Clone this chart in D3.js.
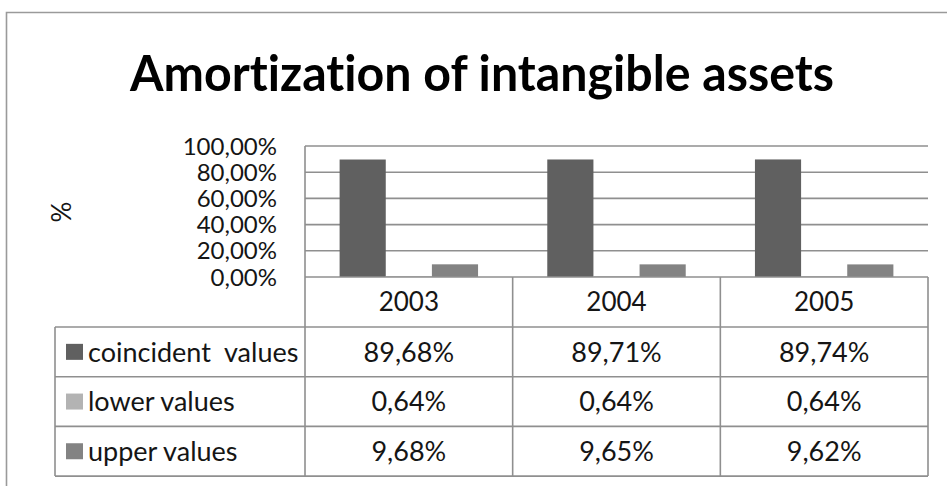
<!DOCTYPE html>
<html>
<head>
<meta charset="utf-8">
<script src="https://cdn.jsdelivr.net/npm/d3@7"></script>
<style>
  html, body { margin: 0; padding: 0; background: #ffffff; }
  svg { display: block; }
  text { font-family: "Lato", "Open Sans", sans-serif; font-variant-ligatures: none; font-feature-settings: "liga" 0, "clig" 0; }
</style>
</head>
<body>
<svg id="chart" width="947" height="486"></svg>
<script>
// ---- data ----
const titleText = "Amortization of intangible assets";
const years = ["2003", "2004", "2005"];
const seriesNames = ["coincident  values", "lower values", "upper values"];
const coincidentValues = [89.68, 89.71, 89.74];
const lowerValues = [0.64, 0.64, 0.64];
const upperValues = [9.68, 9.65, 9.62];
const yTicks = [0, 20, 40, 60, 80, 100];
const yAxisTitle = "%";

const seriesValues = [coincidentValues, lowerValues, upperValues];
const seriesColors = ["#606060", "#b3b3b3", "#838383"];
const fmt = v => v.toFixed(2).replace(".", ",") + "%";

// ---- layout ----
const W = 947, H = 486;
const plotLeft = 305, plotRight = 928, plotTop = 146, plotBottom = 277;
const tableLeft = 55;
const headerBottom = 327;
const rowH = 49.7;
const lineColor = "#8f8f8f";
const txtColor = "#151515";

const svg = d3.select("#chart");

// outer chart border
svg.append("path")
  .attr("d", `M6.5,${H + 2} L6.5,12.5 L${W + 2},12.5`)
  .attr("fill", "none").attr("stroke", "#9a9a9a").attr("stroke-width", 1.6);

// title
svg.append("text")
  .attr("x", 482).attr("y", 91)
  .attr("text-anchor", "middle")
  .attr("font-weight", "bold")
  .attr("font-size", 50)
  .attr("fill", "#000")
  .attr("textLength", 704).attr("lengthAdjust", "spacingAndGlyphs")
  .text(titleText);

// scales
const x0 = d3.scaleBand().domain(years).range([plotLeft, plotRight]).padding(0);
const cw = x0.bandwidth();
const bw = cw / (seriesNames.length + 1.5);
const x1 = d3.scaleBand().domain(seriesNames)
  .range([0.75 * bw, cw - 0.75 * bw]).padding(0);
const y = d3.scaleLinear().domain([0, 100]).range([plotBottom, plotTop]);

// gridlines
svg.append("g").selectAll("line")
  .data(yTicks.filter(t => t > 0))
  .join("line")
  .attr("x1", plotLeft).attr("x2", plotRight)
  .attr("y1", d => y(d)).attr("y2", d => y(d))
  .attr("stroke", lineColor).attr("stroke-width", 1.6);

// y axis labels via d3 axis
const yAxis = d3.axisLeft(y).tickValues(yTicks).tickSize(0).tickPadding(0)
  .tickFormat(d => d.toFixed(2).replace(".", ",") + "%");
const gy = svg.append("g").attr("transform", `translate(277,0)`).call(yAxis);
gy.select(".domain").remove();
gy.selectAll("text")
  .attr("font-size", 24)
  .attr("fill", txtColor)
  .attr("dy", "0.34em")
  .style("font-family", "Lato, 'Open Sans', sans-serif");

// value axis line
svg.append("line")
  .attr("x1", plotLeft).attr("x2", plotLeft)
  .attr("y1", plotTop).attr("y2", headerBottom + rowH * 3)
  .attr("stroke", lineColor).attr("stroke-width", 1.6);

// y axis title
svg.append("text")
  .attr("transform", `translate(71,212) rotate(-90)`)
  .attr("text-anchor", "middle")
  .attr("font-size", 26)
  .attr("fill", txtColor)
  .text(yAxisTitle);

// bars
const barData = [];
years.forEach((yr, i) => {
  seriesNames.forEach((s, j) => {
    barData.push({ year: yr, series: s, value: seriesValues[j][i], color: seriesColors[j] });
  });
});
svg.append("g").selectAll("rect")
  .data(barData)
  .join("rect")
  .attr("x", d => x0(d.year) + x1(d.series))
  .attr("width", x1.bandwidth())
  .attr("y", d => y(d.value))
  .attr("height", d => y(0) - y(d.value))
  .attr("fill", d => d.color);

// ---- data table ----
const tableBottom = headerBottom + rowH * seriesNames.length;
const tg = svg.append("g");
tg.append("line").attr("x1", plotLeft).attr("x2", plotRight)
  .attr("y1", plotBottom).attr("y2", plotBottom)
  .attr("stroke", lineColor).attr("stroke-width", 1.6);
d3.range(seriesNames.length + 1).forEach(k => {
  const yy = headerBottom + rowH * k;
  tg.append("line").attr("x1", tableLeft).attr("x2", plotRight)
    .attr("y1", yy).attr("y2", yy)
    .attr("stroke", lineColor).attr("stroke-width", 1.6);
});
tg.append("line").attr("x1", tableLeft).attr("x2", tableLeft)
  .attr("y1", headerBottom).attr("y2", tableBottom)
  .attr("stroke", lineColor).attr("stroke-width", 1.6);
years.forEach(yr => {
  const xx = x0(yr) + cw;
  tg.append("line").attr("x1", xx).attr("x2", xx)
    .attr("y1", plotBottom).attr("y2", tableBottom)
    .attr("stroke", lineColor).attr("stroke-width", 1.6);
});

// header years
tg.selectAll("text.year")
  .data(years)
  .join("text")
  .attr("class", "year")
  .attr("x", d => x0(d) + cw / 2)
  .attr("y", (plotBottom + headerBottom) / 2)
  .attr("dy", "0.36em")
  .attr("text-anchor", "middle")
  .attr("font-size", 26)
  .attr("fill", txtColor)
  .text(d => d);

// rows
seriesNames.forEach((s, j) => {
  const cy = headerBottom + rowH * j + rowH / 2;
  tg.append("rect")
    .attr("x", 66).attr("y", cy - 8)
    .attr("width", 17).attr("height", 16)
    .attr("fill", seriesColors[j]);
  tg.append("text")
    .attr("x", 88).attr("y", cy)
    .attr("dy", "0.36em")
    .attr("font-size", 27)
    .attr("fill", txtColor)
    .style("white-space", "pre")
    .attr("xml:space", "preserve")
    .text(s);
  years.forEach((yr, i) => {
    tg.append("text")
      .attr("x", x0(yr) + cw / 2)
      .attr("y", cy)
      .attr("dy", "0.36em")
      .attr("text-anchor", "middle")
      .attr("font-size", 27)
      .attr("fill", txtColor)
      .text(fmt(seriesValues[j][i]));
  });
});
</script>
</body>
</html>
